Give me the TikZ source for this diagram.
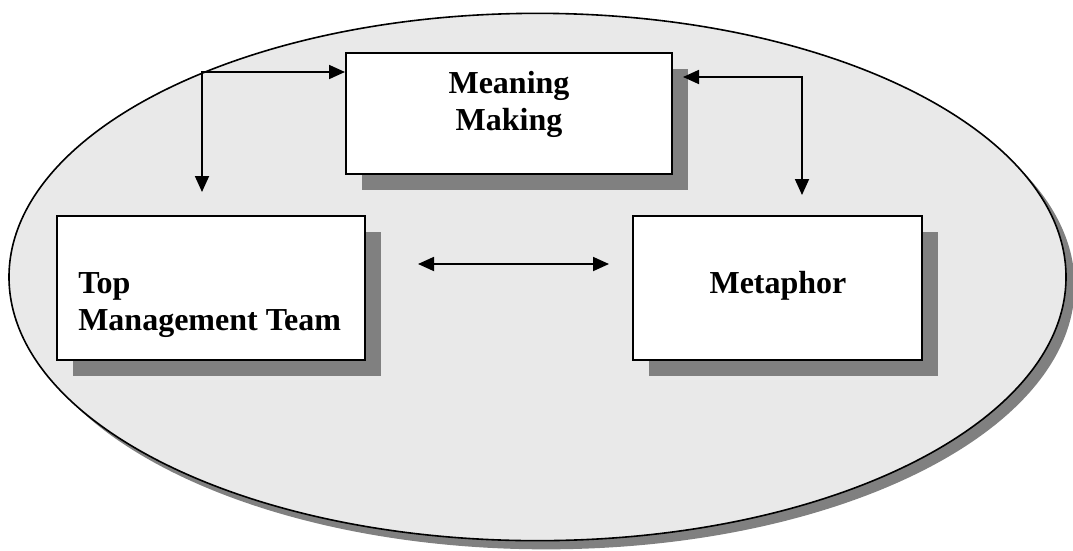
\documentclass[tikz,border=0pt]{standalone}
\usepackage{fontspec}
\setmainfont{Liberation Serif}
\usetikzlibrary{shapes.geometric,shadows,arrows.meta,calc}
\definecolor{bgfill}{HTML}{E9E9E9}
\definecolor{shadowgray}{HTML}{808080}
\tikzset{
  boxstyle/.style={draw=black, line width=1.5pt, fill=white, rectangle, inner sep=0pt,
    drop shadow={shadow xshift=12pt, shadow yshift=-12pt, fill=shadowgray, opacity=1}},
  ovalstyle/.style={draw=black, line width=1.2pt, fill=bgfill, ellipse, inner sep=0pt,
    minimum width=792.75pt, minimum height=395.5pt,
    drop shadow={shadow xshift=6.5pt, shadow yshift=-6.5pt, fill=shadowgray, opacity=1}},
  lbl/.style={font=\fontsize{24}{28}\selectfont\bfseries, inner sep=0pt},
  conn/.style={line width=1.35pt, {Triangle[length=12pt,width=10.5pt]}-{Triangle[length=12pt,width=10.5pt]}}
}
\begin{document}
\begin{tikzpicture}[x=0.75pt, y=-0.75pt]
\useasboundingbox (0,0) rectangle (1073,550);
\node[ovalstyle] (oval) at (537.5,277) {};
\node[boxstyle, minimum width=244.5pt, minimum height=90.75pt] (mm) at (509,113.5) {};
\node[boxstyle, minimum width=231pt, minimum height=108pt] (tmt) at (211,288) {};
\node[boxstyle, minimum width=216.75pt, minimum height=108pt] (met) at (777.5,288) {};
\node[lbl, anchor=base] (mm1) at (509,93) {Meaning};
\node[lbl, anchor=base] (mm2) at (509,130) {Making};
\node[lbl, anchor=base west] (tmt1) at (78,293) {Top};
\node[lbl, anchor=base west] (tmt2) at (78,330) {Management Team};
\node[lbl, anchor=base] (met1) at (778,293) {Metaphor};
\coordinate (c1) at (202,72);
\coordinate (e1) at (202,192);
\coordinate (c2) at (802,77);
\coordinate (e2) at (802,195);
\coordinate (d1) at (418,264);
\coordinate (d2) at (609,264);
\draw[conn] (mm.west |- c1) -- (c1) -- (e1);
\draw[conn] ($(mm.east |- c2)+(10,0)$) -- (c2) -- (e2);
\draw[conn] (d1) -- (d2);
\end{tikzpicture}
\end{document}
